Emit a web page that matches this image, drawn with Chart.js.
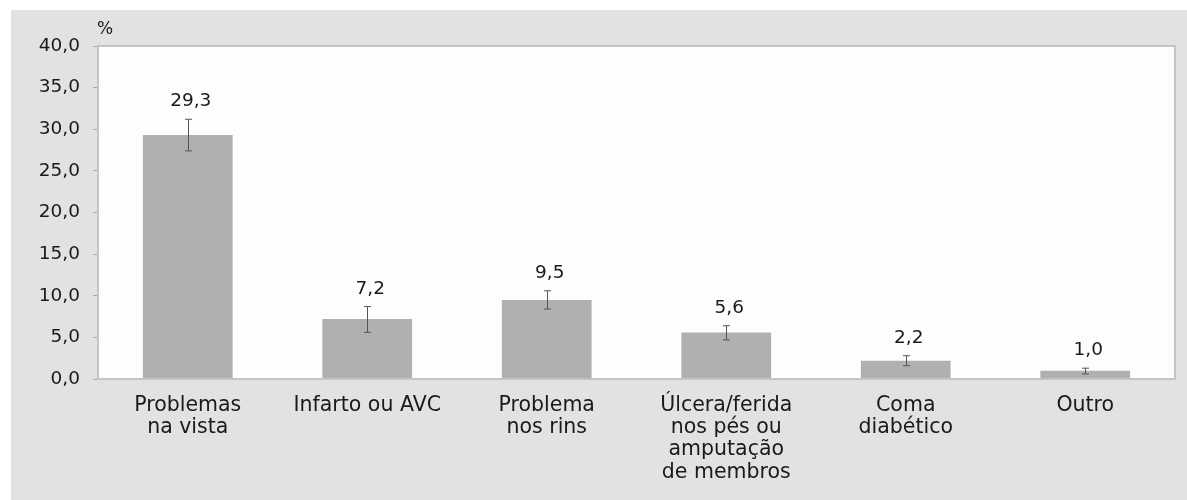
<!DOCTYPE html>
<html>
<head>
<meta charset="utf-8">
<script src="https://cdn.jsdelivr.net/npm/chart.js@4/dist/chart.umd.min.js"></script>
<style>
  html, body { margin: 0; padding: 0; background: #fff; }
  body { width: 1187px; height: 500px; position: relative; overflow: hidden; }
  #panel { position: absolute; left: 11px; top: 10px; width: 1176px; height: 490px; background: #e2e2e2; }
  #wrap { position: absolute; left: 0; top: 0; width: 1187px; height: 500px; }
</style>
</head>
<body>
<div id="panel"></div>
<div id="wrap"><canvas id="c"></canvas></div>
<script>
  /* data */
  var categories = [
    ["Problemas", "na vista"],
    ["Infarto ou AVC"],
    ["Problema", "nos rins"],
    ["Úlcera/ferida", "nos pés ou", "amputação", "de membros"],
    ["Coma", "diabético"],
    ["Outro"]
  ];
  var values = [29.3, 7.2, 9.5, 5.6, 2.2, 1.0];
  var errLow = [27.4, 5.6, 8.4, 4.7, 1.6, 0.6];
  var errHigh = [31.2, 8.7, 10.6, 6.4, 2.8, 1.3];
  var yMin = 0, yMax = 40, yStep = 5;
  var unitLabel = "%";

  var FONT = "'DejaVu Sans', sans-serif";
  var INK = "#1a1a1a";

  function fmt(v) { return Number(v).toFixed(1).replace(".", ","); }

  var plotBox = {
    id: "plotBox",
    beforeDraw: function (chart) {
      var a = chart.chartArea, ctx = chart.ctx;
      ctx.save();
      ctx.fillStyle = "#fdfdfd";
      ctx.fillRect(a.left, a.top, a.right - a.left, a.bottom - a.top);
      ctx.restore();
    },
    afterDraw: function (chart) {
      var a = chart.chartArea, ctx = chart.ctx;
      ctx.save();
      ctx.strokeStyle = "#c4c4c4";
      ctx.lineWidth = 2;
      ctx.strokeRect(a.left, a.top, a.right - a.left, a.bottom - a.top);
      // unit label above the y axis
      ctx.fillStyle = INK;
      ctx.font = "17px " + FONT;
      ctx.textAlign = "left";
      ctx.textBaseline = "middle";
      ctx.fillText(unitLabel, a.left - 1, 30);
      ctx.restore();
    }
  };

  var errorBars = {
    id: "errorBars",
    afterDatasetsDraw: function (chart) {
      var ctx = chart.ctx, y = chart.scales.y;
      var meta = chart.getDatasetMeta(0);
      ctx.save();
      meta.data.forEach(function (bar, i) {
        var x = Math.round(bar.x) + 0.5;
        var yt = y.getPixelForValue(errHigh[i]);
        var yb = y.getPixelForValue(errLow[i]);
        ctx.strokeStyle = "#555";
        ctx.lineWidth = 1;
        ctx.beginPath();
        ctx.moveTo(x, yt); ctx.lineTo(x, yb);
        ctx.moveTo(x - 3.5, yt); ctx.lineTo(x + 3.5, yt);
        ctx.moveTo(x - 3.5, yb); ctx.lineTo(x + 3.5, yb);
        ctx.stroke();
        ctx.fillStyle = INK;
        ctx.font = "18.5px " + FONT;
        ctx.textAlign = "center";
        ctx.textBaseline = "alphabetic";
        ctx.fillText(fmt(values[i]), bar.x + 3, yt - 13);
      });
      ctx.restore();
    }
  };

  new Chart(document.getElementById("c"), {
    type: "bar",
    data: {
      labels: categories,
      datasets: [{
        data: values,
        backgroundColor: "#b0b0b0",
        borderWidth: 0,
        barPercentage: 0.5,
        categoryPercentage: 1
      }]
    },
    options: {
      responsive: true,
      maintainAspectRatio: false,
      animation: false,
      layout: { padding: { left: 0, right: 12, top: 46, bottom: 0 } },
      plugins: { legend: { display: false }, tooltip: { enabled: false } },
      scales: {
        x: {
          grid: { display: false, drawTicks: false },
          border: { display: false },
          ticks: { color: INK, padding: 15, maxRotation: 0, autoSkip: false, font: { family: FONT, size: 20.5, lineHeight: 1.09 } },
          afterFit: function (s) { s.height = 121; }
        },
        y: {
          min: yMin, max: yMax,
          grid: { drawOnChartArea: false, color: "#a8a8a8", tickLength: 5 },
          border: { color: "#c4c4c4", width: 2 },
          ticks: {
            stepSize: yStep, color: INK, padding: 13,
            font: { family: FONT, size: 18.5 },
            callback: function (v) { return fmt(v); }
          },
          afterFit: function (s) { s.width = 98; }
        }
      }
    },
    plugins: [plotBox, errorBars]
  });
</script>
</body>
</html>
